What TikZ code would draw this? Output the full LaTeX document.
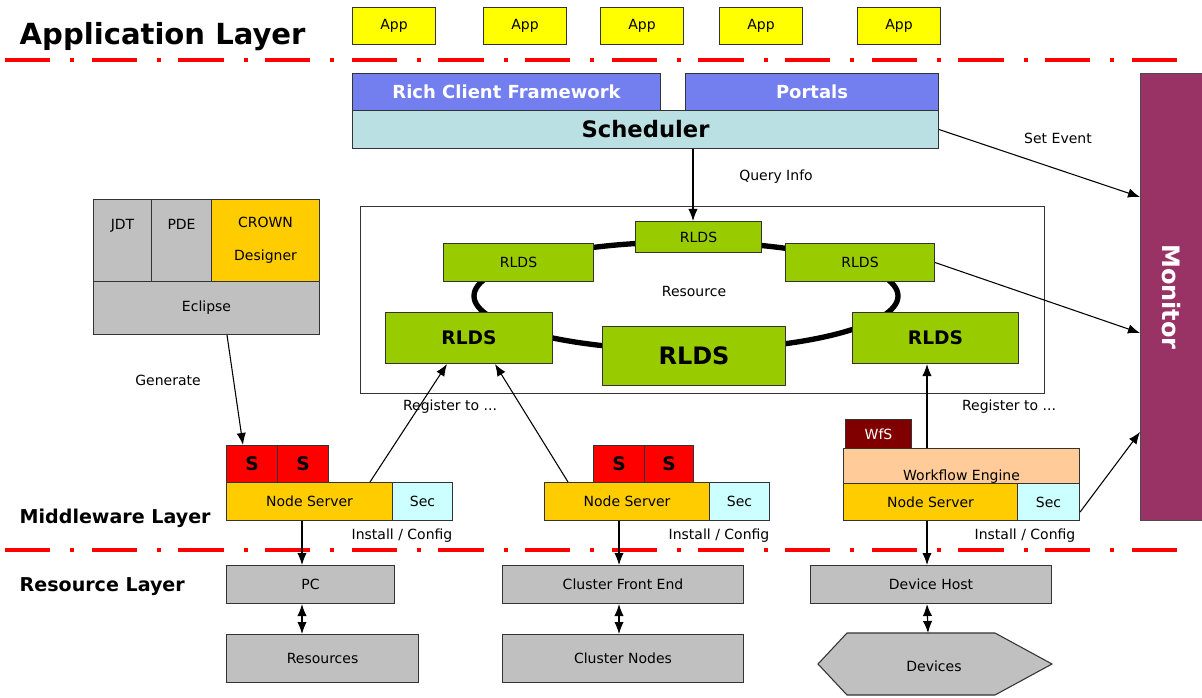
\documentclass[tikz,border=0pt]{standalone}
\usepackage{fontspec}
\setmainfont{DejaVu Sans}
\usetikzlibrary{arrows.meta,calc}

\definecolor{appyellow}{HTML}{FFFF00}
\definecolor{richblue}{HTML}{737EEF}
\definecolor{schedcyan}{HTML}{BBE0E3}
\definecolor{monitorred}{HTML}{993366}
\definecolor{rldsgreen}{HTML}{99CC00}
\definecolor{crownorange}{HTML}{FFCC00}
\definecolor{boxgrey}{HTML}{C0C0C0}
\definecolor{secblue}{HTML}{CCFFFF}
\definecolor{wfsred}{HTML}{800000}
\definecolor{wfpeach}{HTML}{FFCC99}

\newcommand{\smallfnt}{\fontsize{10.5}{12}\selectfont}

\tikzset{
  box/.style={draw=black!80, line width=0.8pt, inner sep=0pt, anchor=north west, font=\smallfnt},
  wh/.style 2 args={minimum width=0.75*#1pt, minimum height=0.75*#2pt},
  arr/.style={line width=0.8pt, -{Latex[length=9pt,width=7pt]}},
  dblarr/.style={line width=0.8pt, {Latex[length=9pt,width=7pt]}-{Latex[length=9pt,width=7pt]}},
  layerline/.style={red, line width=3pt, dash pattern=on 34pt off 15pt on 3pt off 13pt},
  lbl/.style={font=\smallfnt},
  layer/.style={anchor=west, font=\bfseries\fontsize{14.3}{16}\selectfont}
}

\begin{document}
\begin{tikzpicture}[x=0.75pt, y=-0.75pt]
\useasboundingbox (0,0) rectangle (1202,698);

% layers
\node[anchor=west, font=\bfseries\fontsize{21.8}{24}\selectfont] (applayer) at (15,37) {Application Layer};
\node[layer] (midlayer) at (15,518) {Middleware Layer};
\node[layer] (reslayer) at (15,587) {Resource Layer};
\draw[layerline] (5,60) -- (1190,60);
\draw[layerline] (5,550) -- (1190,550);

% apps
\foreach \x [count=\i] in {352,483,600,719,857}
  \node[box, wh={83}{37}, fill=appyellow] (app\i) at (\x,7) {App};

% top stack
\node[box, wh={308}{37}, fill=richblue, text=white, font=\bfseries\fontsize{13.5}{15}\selectfont] (rich) at (352,73) {Rich Client Framework};
\node[box, wh={253}{37}, fill=richblue, text=white, font=\bfseries\fontsize{13.5}{15}\selectfont] (portals) at (685,73) {Portals};
\node[box, wh={586}{38}, fill=schedcyan, font=\bfseries\fontsize{17}{19}\selectfont] (sched) at (352,110) {Scheduler};
\node[box, wh={62}{447}, fill=monitorred, draw=black!70, text=white, font=\bfseries\fontsize{18}{20}\selectfont] (monitor) at (1140,73) {\rotatebox{-90}{Monitor}};

% resource ring
\node[box, wh={684}{187}] (resbox) at (360,206) {};
\draw[line width=4pt] (686,296) ellipse [x radius=212, y radius=54];
\node[lbl] (restext) at (694,291) {Resource};
\node[box, wh={126}{31}, fill=rldsgreen] (rldsT) at (635,221) {RLDS};
\node[box, wh={150}{38}, fill=rldsgreen] (rldsUL) at (443,243) {RLDS};
\node[box, wh={149}{38}, fill=rldsgreen] (rldsUR) at (785,243) {RLDS};
\node[box, wh={167}{51}, fill=rldsgreen, font=\bfseries\fontsize{14}{16}\selectfont] (rldsL) at (385,312) {RLDS};
\node[box, wh={183}{59}, fill=rldsgreen, font=\bfseries\fontsize{18}{20}\selectfont] (rldsC) at (602,326) {RLDS};
\node[box, wh={166}{51}, fill=rldsgreen, font=\bfseries\fontsize{14}{16}\selectfont] (rldsR) at (852,312) {RLDS};

% eclipse
\node[box, wh={58}{82}, fill=boxgrey, label={[lbl,anchor=north,yshift=-12pt]north:JDT}] (jdt) at (93,199) {};
\node[box, wh={60}{82}, fill=boxgrey, label={[lbl,anchor=north,yshift=-12pt]north:PDE}] (pde) at (151,199) {};
\node[box, wh={108}{82}, fill=crownorange, align=center, font=\fontsize{10.5}{25}\selectfont] (crown) at (211,199) {CROWN\\Designer};
\node[box, wh={226}{53}, fill=boxgrey] (eclipse) at (93,281) {Eclipse};

% node servers
\node[box, wh={51}{37}, fill=red, font=\bfseries\fontsize{14}{16}\selectfont] (s1a) at (226,445) {S};
\node[box, wh={51}{37}, fill=red, font=\bfseries\fontsize{14}{16}\selectfont] (s1b) at (277,445) {S};
\node[box, wh={166}{38}, fill=crownorange] (ns1) at (226,482) {Node Server};
\node[box, wh={60}{38}, fill=secblue] (sec1) at (392,482) {Sec};

\node[box, wh={51}{37}, fill=red, font=\bfseries\fontsize{14}{16}\selectfont] (s2a) at (593,445) {S};
\node[box, wh={49}{37}, fill=red, font=\bfseries\fontsize{14}{16}\selectfont] (s2b) at (644,445) {S};
\node[box, wh={165}{38}, fill=crownorange] (ns2) at (544,482) {Node Server};
\node[box, wh={60}{38}, fill=secblue] (sec2) at (709,482) {Sec};

\node[box, wh={66}{29}, fill=wfsred, text=white] (wfs) at (845,419) {WfS};
\node[box, wh={236}{35}, fill=wfpeach, label={[lbl,anchor=base,yshift=3pt]south:Workflow Engine}] (we) at (843,448) {};
\node[box, wh={174}{37}, fill=crownorange] (ns3) at (843,483) {Node Server};
\node[box, wh={62}{37}, fill=secblue] (sec3) at (1017,483) {Sec};

% resource layer
\node[box, wh={168}{38}, fill=boxgrey] (pc) at (226,565) {PC};
\node[box, wh={192}{48}, fill=boxgrey] (resrc) at (226,634) {Resources};
\node[box, wh={241}{38}, fill=boxgrey] (cfe) at (502,565) {Cluster Front End};
\node[box, wh={241}{48}, fill=boxgrey] (cnodes) at (502,634) {Cluster Nodes};
\node[box, wh={241}{38}, fill=boxgrey] (dhost) at (810,565) {Device Host};
\draw[draw=black!80, line width=0.8pt, fill=boxgrey] (847,633) -- (995,633) -- (1052,664) -- (995,695) -- (847,695) -- (818,664) -- cycle;
\node[lbl] (devices) at (934,666) {Devices};
\coordinate (devtop) at (928,633);

% connectors
\draw[arr] (sched.south -| 693,0) -- (693,221);
\draw[arr] (sched.east) -- ($(monitor.north west)+(0,124)$);
\draw[arr] (rldsUR.east) -- ($(monitor.north west)+(0,260)$);
\draw[arr] ($(sec3.east)+(0,10)$) -- ($(monitor.north west)+(0,359)$);
\draw[arr] ($(eclipse.south west)+(134,0)$) -- ($(s1a.north west)+(17,0)$);
\draw[arr] ($(ns1.north west)+(144,0)$) -- ($(rldsL.south west)+(62,0)$);
\draw[arr] ($(ns2.north west)+(24,0)$) -- ($(rldsL.south west)+(110,0)$);
\coordinate (regR) at ($(rldsR.south west)+(75,0)$);
\draw[arr] (we.north -| regR) -- (regR);

\coordinate (dn1) at ($(ns1.south west)+(76,0)$);
\coordinate (dn2) at ($(ns2.south west)+(75,0)$);
\coordinate (dn3) at ($(ns3.south west)+(84,0)$);
\draw[arr] (dn1) -- (dn1 |- pc.north);
\draw[arr] (dn2) -- (dn2 |- cfe.north);
\draw[arr] (dn3) -- (dn3 |- dhost.north);
\draw[dblarr] (dn1 |- pc.south) -- (dn1 |- resrc.north);
\draw[dblarr] (dn2 |- cfe.south) -- (dn2 |- cnodes.north);
\draw[dblarr] (dn3 |- dhost.south) -- (devtop);

% labels
\node[lbl] (setev) at (1058,138) {Set Event};
\node[lbl] (query) at (776,177) {Query Info};
\node[lbl] (gen) at (168,380) {Generate};
\node[lbl] (reg1) at (450,407) {Register to ...};
\node[lbl] (reg2) at (1009,407) {Register to ...};
\node[lbl] (inst1) at (402,536) {Install / Config};
\node[lbl] (inst2) at (719,536) {Install / Config};
\node[lbl] (inst3) at (1025,536) {Install / Config};
\end{tikzpicture}
\end{document}
